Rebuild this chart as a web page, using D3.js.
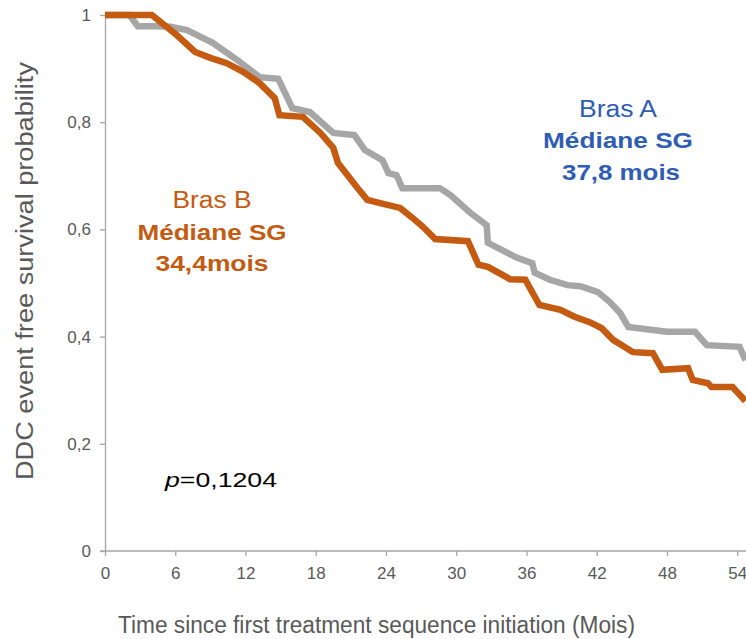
<!DOCTYPE html>
<html>
<head>
<meta charset="utf-8">
<script src="https://cdn.jsdelivr.net/npm/d3@7"></script>
<style>
  body { margin: 0; background: #fff; }
  text { font-family: Arial, "Liberation Sans", sans-serif; }
</style>
</head>
<body>
<div id="chart"></div>
<script>
// Bras A (grey), months / probability
const brasAMonths = [0, 2.1, 2.8, 4.4, 5.6, 7.0, 9.2, 11.3, 13.2, 14.8, 16.0, 17.5, 19.5, 21.3, 22.2, 23.7, 24.2, 24.9, 25.4, 28.6, 29.5, 31.2, 32.6, 32.7, 35.2, 36.5, 36.7, 38.0, 39.5, 40.6, 42.1, 43.1, 44.0, 44.7, 48.0, 50.4, 51.4, 54.2, 54.7];
const brasAProb = [1.0, 1.0, 0.979, 0.979, 0.978, 0.972, 0.948, 0.916, 0.884, 0.881, 0.826, 0.819, 0.780, 0.776, 0.748, 0.729, 0.705, 0.701, 0.677, 0.677, 0.664, 0.631, 0.608, 0.575, 0.547, 0.537, 0.519, 0.506, 0.496, 0.494, 0.483, 0.465, 0.444, 0.418, 0.409, 0.409, 0.384, 0.381, 0.356];

// Bras B (orange)
const brasBMonths = [0, 4.0, 6.1, 7.7, 9.0, 10.4, 11.8, 13.2, 14.5, 14.9, 16.9, 18.4, 19.5, 19.9, 21.5, 22.4, 23.5, 25.2, 26.3, 27.2, 28.2, 31.0, 31.9, 32.7, 34.3, 34.6, 35.9, 37.1, 38.9, 40.1, 41.4, 42.4, 43.4, 45.1, 46.8, 47.6, 49.8, 50.2, 51.5, 51.8, 53.6, 54.7];
const brasBProb = [1.0, 1.0, 0.963, 0.931, 0.920, 0.910, 0.894, 0.873, 0.845, 0.813, 0.810, 0.780, 0.752, 0.724, 0.679, 0.655, 0.649, 0.640, 0.621, 0.604, 0.582, 0.578, 0.534, 0.530, 0.511, 0.507, 0.506, 0.459, 0.450, 0.437, 0.427, 0.416, 0.394, 0.371, 0.369, 0.338, 0.341, 0.319, 0.313, 0.306, 0.306, 0.280];

const xTicks = [0, 6, 12, 18, 24, 30, 36, 42, 48, 54];
const yTicks = [0, 0.2, 0.4, 0.6, 0.8, 1];
const yTickLabels = ['0', '0,2', '0,4', '0,6', '0,8', '1'];

const width = 746;
const height = 639;

const svg = d3.select('#chart')
    .append('svg')
    .attr('width', width)
    .attr('height', height);

const x = d3.scaleLinear().domain([0, 54.75]).range([105, 746]);
const y = d3.scaleLinear().domain([0, 1]).range([551, 15]);

const axisColor = '#a6a6a6';
const labelColor = '#595959';

// axes
const xAxis = svg.append('g')
    .attr('transform', `translate(0, ${y(0)})`)
    .call(d3.axisBottom(x).tickValues(xTicks).tickSize(5).tickPadding(11).tickSizeOuter(0));

const yAxis = svg.append('g')
    .attr('transform', `translate(${x(0)}, 0)`)
    .call(d3.axisLeft(y).tickValues(yTicks).tickSize(5).tickPadding(9).tickSizeOuter(0)
        .tickFormat((d, i) => yTickLabels[i]));

[xAxis, yAxis].forEach(ax => {
    ax.select('.domain').attr('stroke', axisColor).attr('stroke-width', 1.3);
    ax.selectAll('.tick line').attr('stroke', axisColor).attr('stroke-width', 1.3);
    ax.selectAll('.tick text')
        .attr('fill', labelColor)
        .style('font-size', '17px')
        .style('font-family', 'Arial, "Liberation Sans", sans-serif');
});
// x axis line starts under the 0 tick of the y axis
xAxis.select('.domain').attr('d', `M${x(0) - 5},0H${width}`);

// curves
const line = d3.line()
    .x(d => x(d[0]))
    .y(d => y(d[1]));

const seriesA = brasAMonths.map((m, i) => [m, brasAProb[i]]);
const seriesB = brasBMonths.map((m, i) => [m, brasBProb[i]]);

svg.append('path')
    .datum(seriesA)
    .attr('d', line)
    .attr('fill', 'none')
    .attr('stroke', '#a6a6a6')
    .attr('stroke-width', 6.5)
    .attr('stroke-linejoin', 'miter');

svg.append('path')
    .datum(seriesB)
    .attr('d', line)
    .attr('fill', 'none')
    .attr('stroke', '#c55a11')
    .attr('stroke-width', 6.5)
    .attr('stroke-linejoin', 'miter');

// annotations
function label(txt, cx, by, size, weight, color, len) {
    svg.append('text')
        .attr('x', cx)
        .attr('y', by)
        .attr('text-anchor', 'middle')
        .attr('fill', color)
        .attr('textLength', len)
        .attr('lengthAdjust', 'spacingAndGlyphs')
        .style('font-size', size + 'px')
        .style('font-weight', weight)
        .text(txt);
}

const blue = '#2f5db3';
const orange = '#c55a11';

label('Bras A', 618, 117, 23.5, 'normal', blue, 78);
label('Médiane SG', 618, 148, 22, 'bold', blue, 150);
label('37,8 mois', 621, 180, 22, 'bold', blue, 118);

label('Bras B', 212, 208, 23.5, 'normal', orange, 79);
label('Médiane SG', 212, 240, 22, 'bold', orange, 149);
label('34,4mois', 212, 271, 22, 'bold', orange, 113);

// p-value
const pText = svg.append('text')
    .attr('x', 165)
    .attr('y', 487)
    .attr('fill', '#000')
    .attr('textLength', 112)
    .attr('lengthAdjust', 'spacingAndGlyphs')
    .style('font-size', '21px');
pText.append('tspan').style('font-style', 'italic').text('p');
pText.append('tspan').text('=0,1204');

// axis titles
svg.append('text')
    .attr('x', 376.5)
    .attr('y', 633)
    .attr('text-anchor', 'middle')
    .attr('fill', '#595959')
    .attr('textLength', 517)
    .attr('lengthAdjust', 'spacingAndGlyphs')
    .style('font-size', '23px')
    .text('Time since first treatment sequence initiation (Mois)');

svg.append('text')
    .attr('transform', 'translate(33, 271) rotate(-90)')
    .attr('text-anchor', 'middle')
    .attr('fill', '#595959')
    .attr('textLength', 418)
    .attr('lengthAdjust', 'spacingAndGlyphs')
    .style('font-size', '23px')
    .text('DDC event free survival probability');
</script>
</body>
</html>
